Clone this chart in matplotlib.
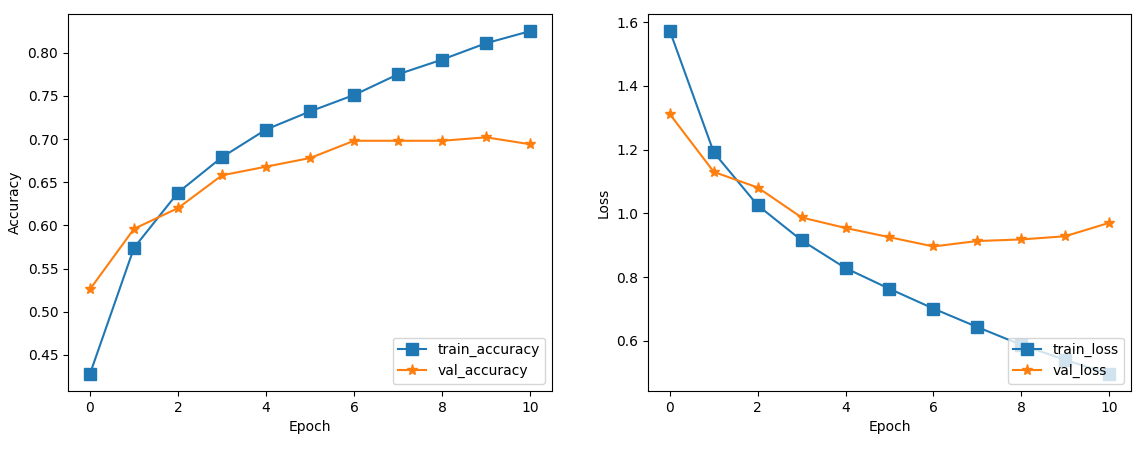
import matplotlib
matplotlib.use("Agg")
import matplotlib.pyplot as plt

epochs = list(range(11))
train_accuracy = [0.428, 0.574, 0.638, 0.679, 0.711, 0.732, 0.751, 0.775, 0.792, 0.811, 0.825]
val_accuracy = [0.526, 0.596, 0.620, 0.658, 0.668, 0.678, 0.698, 0.698, 0.698, 0.702, 0.694]
train_loss = [1.572, 1.191, 1.025, 0.915, 0.828, 0.763, 0.701, 0.643, 0.587, 0.540, 0.496]
val_loss = [1.311, 1.130, 1.081, 0.987, 0.954, 0.925, 0.896, 0.913, 0.918, 0.928, 0.970]

fig = plt.figure(figsize=(11.37, 4.49), dpi=100)
ax1 = fig.add_axes([0.0598, 0.1292, 0.4257, 0.8396])
ax2 = fig.add_axes([0.5699, 0.1292, 0.4248, 0.8396])

ax1.plot(epochs, train_accuracy, marker="s", markersize=9, label="train_accuracy")
ax1.plot(epochs, val_accuracy, marker="*", markersize=8, label="val_accuracy")
ax1.set_xlabel("Epoch")
ax1.set_ylabel("Accuracy")
ax1.legend(loc="lower right")

ax2.plot(epochs, train_loss, marker="s", markersize=9, label="train_loss")
ax2.plot(epochs, val_loss, marker="*", markersize=8, label="val_loss")
ax2.set_xlabel("Epoch")
ax2.set_ylabel("Loss")
ax2.legend(loc="lower right")

fig.savefig("out.png", dpi=100)
